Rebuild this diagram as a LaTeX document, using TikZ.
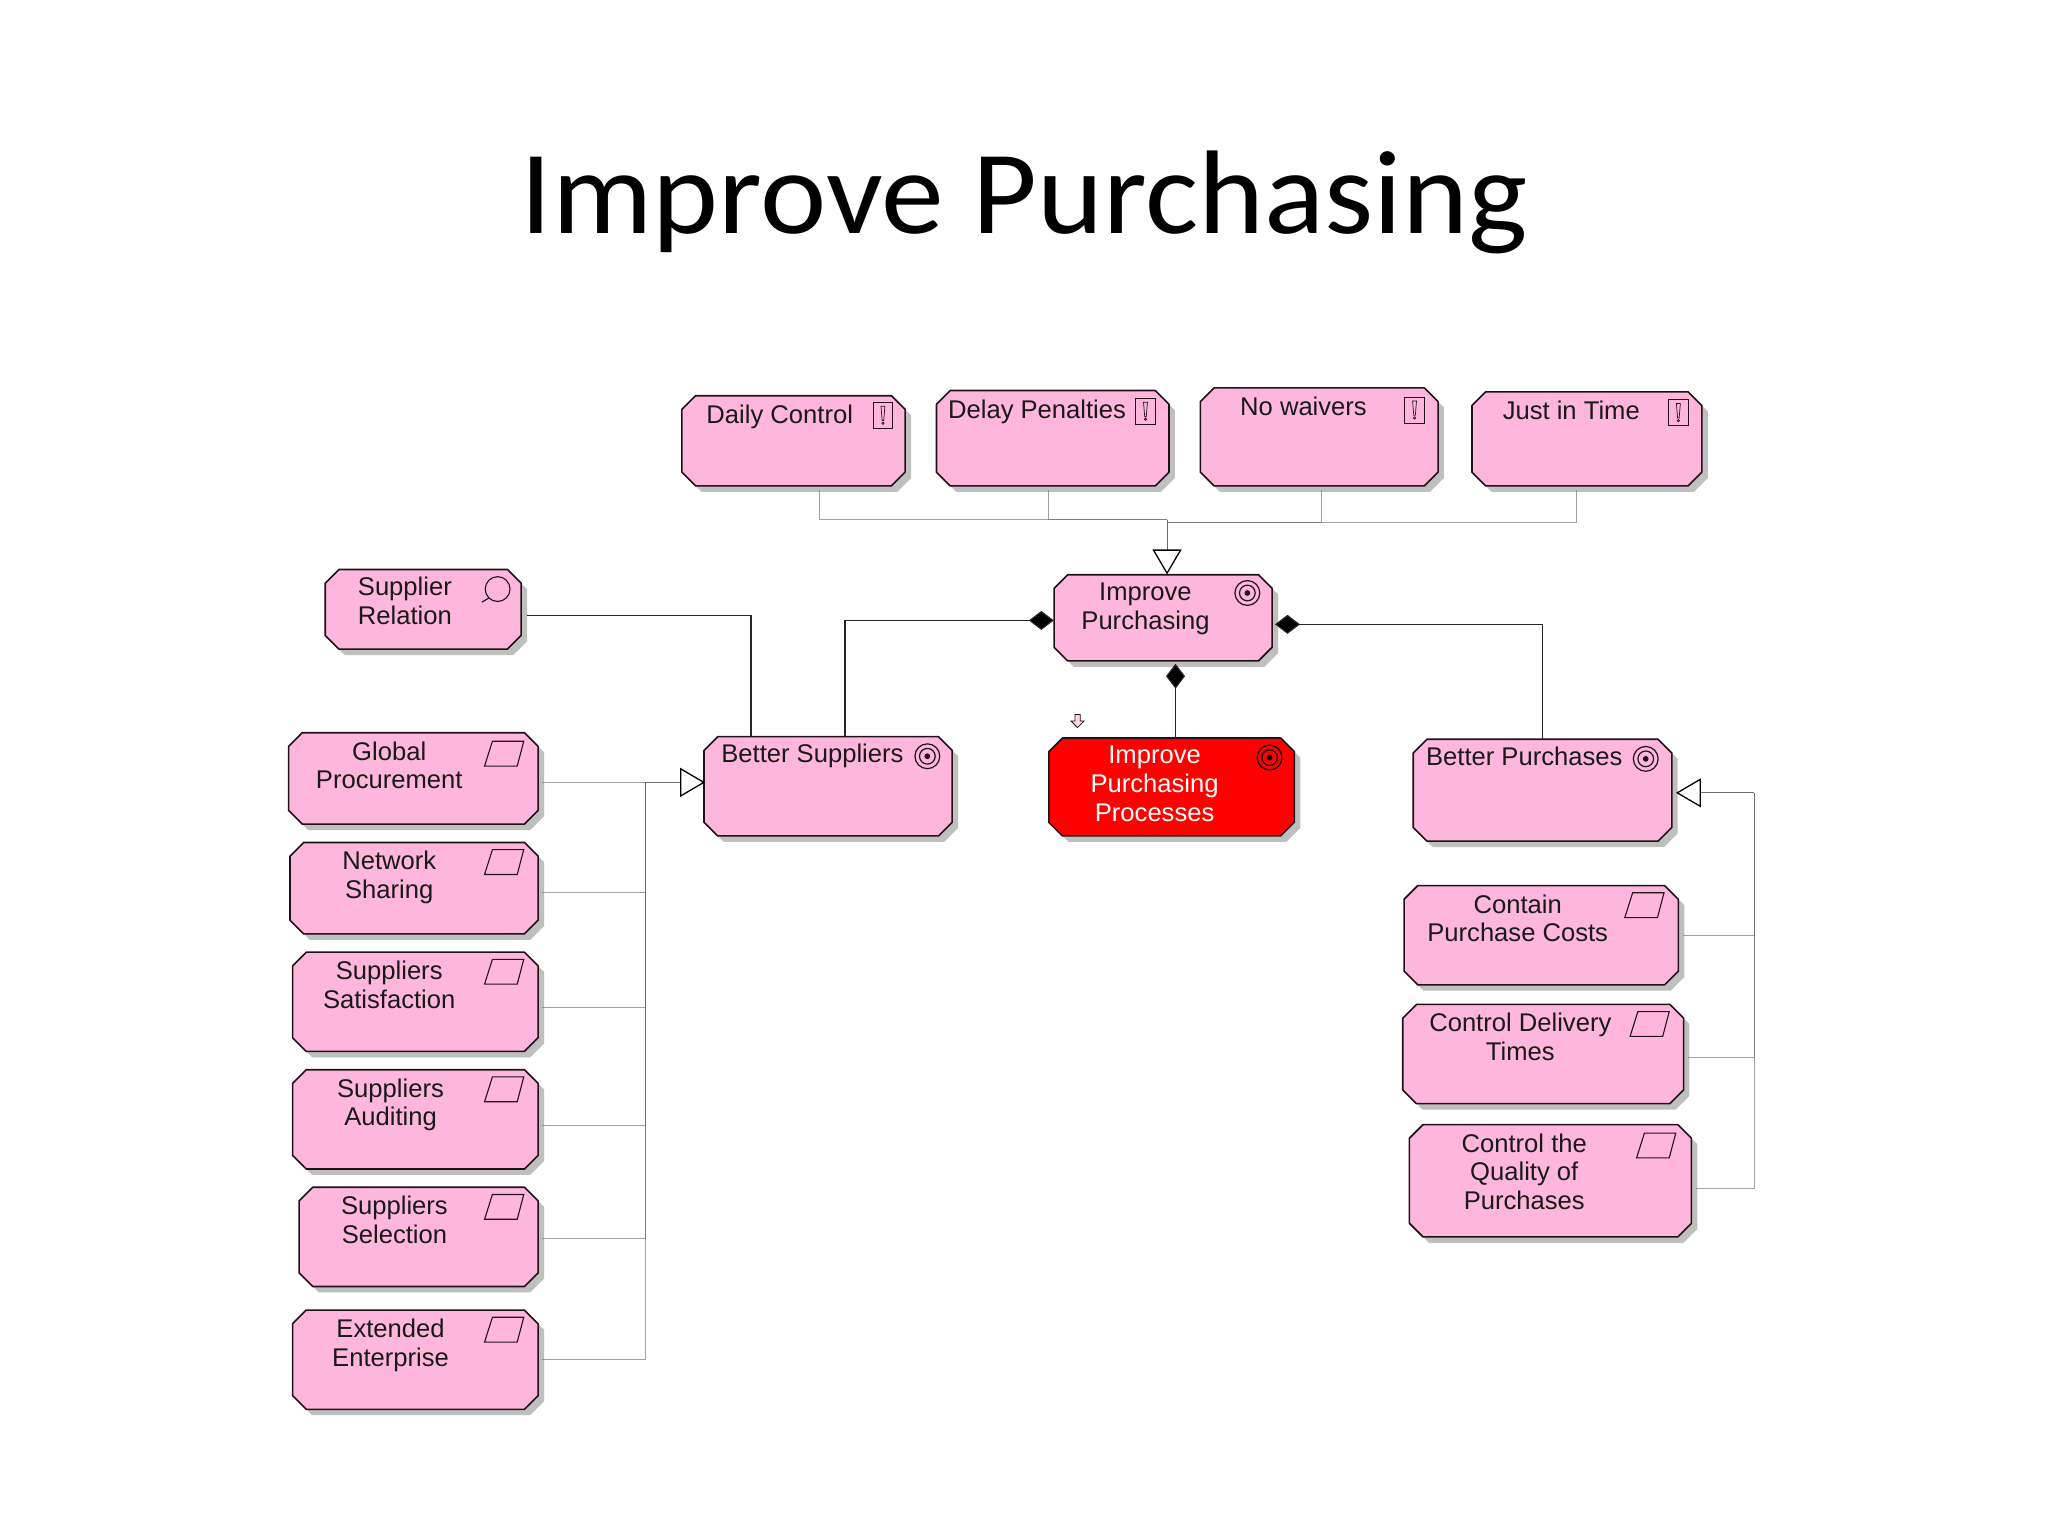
\documentclass[tikz,border=0pt]{standalone}
\usepackage{fontspec}
\setmainfont{Liberation Sans}
\newfontfamily\titlefont{Carlito}
\usetikzlibrary{shapes.geometric,arrows.meta,calc}
\definecolor{boxpink}{HTML}{FFB6DC}
\definecolor{shadowgray}{HTML}{BFBFBF}
\definecolor{linkgray}{HTML}{6E6E6E}
\definecolor{boxline}{HTML}{201018}
\tikzset{
  x=1.306pt,y=-1.306pt,
  boxface/.style={draw=boxline,line width=1.6pt,line join=round,fill=boxpink},
  boxanchor/.style={rectangle,inner sep=0pt},
  lbl/.style={font=\fontsize{25.6}{28.7}\selectfont,align=center,inner sep=0pt,text=black!90},
  lnk/.style={draw=linkgray,line width=1pt,draw opacity=.65},
  strong/.style={draw=black!85,line width=1.2pt},
  gen/.style={draw=linkgray,line width=1pt,-{Triangle[open,fill=white,length=25pt,width=29pt,line width=1.3pt,color=black]}},
  comp/.style={strong,{Diamond[fill=black,length=25pt,width=19pt]}-},
  icon/.style={draw=boxline,line width=1.1pt},
}
\newcommand{\chpath}[4]{({#1+10.5},#2) -- ({#3-10.5},#2) -- (#3,{#2+10.5}) -- (#3,{#4-10.5}) -- ({#3-10.5},#4) -- ({#1+10.5},#4) -- (#1,{#4-10.5}) -- (#1,{#2+10.5}) -- cycle}
\newcommand{\cbox}[6][boxpink]{%
  \pgfmathsetmacro{\cx}{(#3+#5)/2}\pgfmathsetmacro{\cy}{(#4+#6)/2}%
  \pgfmathsetmacro{\bxw}{(#5-#3)*1.306}\pgfmathsetmacro{\bxh}{(#6-#4)*1.306}%
  \begin{scope}[shift={(4.5,4.5)}]\fill[shadowgray] \chpath{#3}{#4}{#5}{#6};\end{scope}%
  \draw[boxface,fill=#1] \chpath{#3}{#4}{#5}{#6};%
  \node[boxanchor,minimum width=\bxw pt,minimum height=\bxh pt] (#2) at (\cx,\cy) {};}
\newcommand{\tgt}[3][boxline]{\draw[draw=#1,line width=1.2pt] (#2,#3) circle[radius=9.5] (#2,#3) circle[radius=6];\fill[#1] (#2,#3) circle[radius=2.2];}
\newcommand{\para}[2]{\draw[icon] ($(#1,#2)+(-15,9.5)$) -- ($(#1,#2)+(-9,-9.5)$) -- ($(#1,#2)+(15,-9.5)$) -- ($(#1,#2)+(10,9.5)$) -- cycle;}
\newcommand{\cons}[2]{\draw[icon] ($(#1,#2)+(-7.5,-10)$) rectangle ($(#1,#2)+(7.5,10)$);
  \draw[line width=.7pt,draw=boxline] ($(#1,#2)+(-1.5,-7)$) -- ($(#1,#2)+(1.5,-7)$) -- ($(#1,#2)+(.6,4)$) -- ($(#1,#2)+(-.6,4)$) -- cycle ($(#1,#2)+(0,6)$) circle[radius=.9];}
\begin{document}
\begin{tikzpicture}
\useasboundingbox (0,0) rectangle (1568,1176);
\fill[white] (0,0) rectangle (1568,1176);
\node[font=\titlefont\fontsize{119}{119}\selectfont,inner sep=0pt,xscale=1.055,transform shape] (title) at (784,155) {Improve Purchasing};
% boxes
\cbox{daily}{522}{303}{693}{372}
\cbox{delay}{717}{299}{895}{372}
\cbox{waive}{919}{297}{1101}{372}
\cbox{jit}{1127}{300}{1303}{372}
\cbox{imp}{807}{440}{974}{506}
\cbox{rel}{249}{436}{399}{497}
\cbox{glob}{221}{561}{412}{631}
\cbox{net}{222}{645}{412}{715}
\cbox{sat}{224}{729}{412}{805}
\cbox{aud}{224}{819}{412}{895}
\cbox{sel}{229}{909}{412}{985}
\cbox{ext}{224}{1003}{412}{1079}
\cbox{bs}{539}{564}{729}{640}
\cbox[red]{proc}{803}{565}{991}{640}
\cbox{bp}{1082}{566}{1280}{644}
\cbox{cost}{1075}{678}{1285}{754}
\cbox{deliv}{1074}{769}{1289}{845}
\cbox{qual}{1079}{861}{1295}{947}
% labels
\node[lbl] (tdaily) at (597,319) {Daily Control};
\node[lbl] (tdelay) at (794,315) {Delay Penalties};
\node[lbl] (twaive) at (998,311) {No waivers};
\node[lbl] (tjit) at (1203,314) {Just in Time};
\node[lbl] (timp) at (877,466) {Improve\\Purchasing};
\node[lbl] (trel) at (310,460) {Supplier\\Relation};
\node[lbl] (tglob) at (298,586) {Global\\Procurement};
\node[lbl] (tnet) at (298,672) {Network\\Sharing};
\node[lbl] (tsat) at (298,754) {Suppliers\\Satisfaction};
\node[lbl] (taud) at (299,846) {Suppliers\\Auditing};
\node[lbl] (tsel) at (302,934) {Suppliers\\Selection};
\node[lbl] (text) at (299,1030) {Extended\\Enterprise};
\node[lbl] (tbs) at (622,579) {Better Suppliers};
\node[lbl,text=white] (tproc) at (884,600) {Improve\\Purchasing\\Processes};
\node[lbl] (tbp) at (1167,579) {Better Purchases};
\node[lbl] (tcost) at (1162,703) {Contain\\Purchase Costs};
\node[lbl] (tdeliv) at (1164,794) {Control Delivery\\Times};
\node[lbl] (tqual) at (1167,897) {Control the\\Quality of\\Purchases};
% icons
\cons{676}{318}\cons{877}{315}\cons{1083}{314}\cons{1285}{316}
\tgt{955}{454}\tgt{710}{579}\tgt[black]{972}{580}\tgt{1260}{581}
\para{386}{577}\para{386}{660}\para{386}{744}\para{386}{834}\para{386}{924}\para{386}{1018}
\para{1259}{693}\para{1263}{784}\para{1268}{877}
\draw[icon] (381,451) circle[radius=9.5] (374,458) -- (369,461);
% small marker
\draw[line width=.8pt,draw=boxline,fill=boxpink!60] (823,547) -- (827,547) -- (827,552) -- (830,552) -- (825,557) -- (820,552) -- (823,552) -- cycle;
% connectors: requirements to goal
\coordinate (topjoin) at (893.5,398);
\coordinate (topjoinb) at (893.5,400);
\draw[lnk] ($(daily.south)+(20,3)$) |- (topjoin);
\draw[lnk] ($(delay.south)+(-3,3)$) |- (topjoin);
\draw[lnk] ($(waive.south)+(2,3)$) |- (topjoinb);
\draw[lnk] ($(jit.south)+(-8,3)$) |- (topjoinb);
\draw[gen] (topjoin) -- ($(imp.north)+(3,0)$);
% left group
\coordinate (leftbus) at (494,599);
\draw[lnk] ($(glob.east)+(3,3)$) -- (leftbus);
\draw[lnk] ($(net.east)+(3,3)$) -| (leftbus);
\draw[lnk] ($(sat.east)+(3,4)$) -| (leftbus);
\draw[lnk] ($(aud.east)+(3,5)$) -| (leftbus);
\draw[lnk] ($(sel.east)+(3,1)$) -| (leftbus);
\draw[lnk] ($(ext.east)+(3,0)$) -| (leftbus);
\draw[gen] (leftbus) -- ($(bs.west)+(1,-3)$);
% right group
\coordinate (rightbus) at (1343,607);
\draw[lnk] ($(cost.east)+(3,0)$) -| (rightbus);
\draw[lnk] ($(deliv.east)+(3,3)$) -| (rightbus);
\draw[lnk] ($(qual.east)+(3,6)$) -| (rightbus);
\draw[gen] (rightbus) -- ($(bp.east)+(3,2)$);
% composition
\draw[strong] ($(rel.east)+(4,4.5)$) -| ($(bs.north)+(-59,0)$);
\draw[comp] ($(imp.west)+(0,2)$) -| ($(bs.north)+(13,0)$);
\draw[comp] ($(imp.east)+(2,5)$) -| ($(bp.north)+(0,0)$);
\draw[comp] ($(imp.south)+(9.5,2)$) -- ($(proc.north)+(3,0)$);
\end{tikzpicture}
\end{document}
